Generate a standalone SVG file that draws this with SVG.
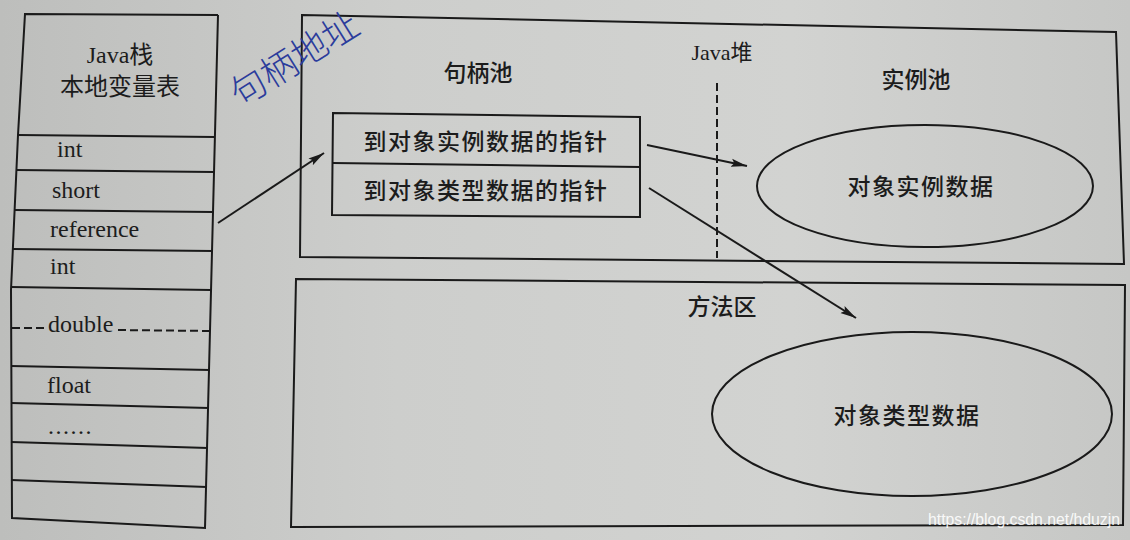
<svg xmlns="http://www.w3.org/2000/svg" width="1130" height="540" viewBox="0 0 1130 540">
  <defs>
    <linearGradient id="paper" x1="0" y1="0" x2="1" y2="0">
      <stop offset="0" stop-color="#bdbebc"/>
      <stop offset="0.35" stop-color="#cdcecc"/>
      <stop offset="0.7" stop-color="#d2d3d1"/>
      <stop offset="1" stop-color="#c6c7c5"/>
    </linearGradient>
    <marker id="arrow" viewBox="0 0 16 10" refX="16" refY="5" markerWidth="16" markerHeight="10" markerUnits="userSpaceOnUse" orient="auto">
      <path d="M0,1 L16,5 L0,9 L3,5 Z" fill="#1a1a1a"/>
    </marker>
    <style>
      .ln { stroke: #1a1a1a; stroke-width: 2; fill: none; }
      .dash { stroke: #1a1a1a; stroke-width: 2; fill: none; stroke-dasharray: 8 4; }
      .lat { font-family: "Liberation Serif", "Noto Sans CJK SC", serif; font-size: 24px; fill: #1c1c1c; }
      .cjk { font-family: "Liberation Serif", "Noto Sans CJK SC", serif; font-size: 23px; fill: #1c1c1c; font-weight: 500; }
      .ptr { letter-spacing: 1.5px; }
      .mid { text-anchor: middle; }
      .conn { stroke: #1a1a1a; stroke-width: 2; fill: none; marker-end: url(#arrow); }
    </style>
  </defs>

  <rect x="0" y="0" width="1130" height="540" fill="url(#paper)"/>

  <!-- Java stack / local variable table -->
  <g id="java-stack">
    <polyline class="ln" points="218,15 25,14 18,135 11,290 12,518 205,528 218,15"/>
    <line class="ln" x1="18" y1="135" x2="215" y2="137"/>
    <line class="ln" x1="16" y1="170" x2="214" y2="172"/>
    <line class="ln" x1="14" y1="210" x2="213" y2="212"/>
    <line class="ln" x1="13" y1="249" x2="213" y2="251"/>
    <line class="ln" x1="11" y1="287" x2="211" y2="290"/>
    <line class="dash" x1="12" y1="328" x2="46" y2="328"/>
    <line class="dash" x1="118" y1="330" x2="210" y2="331"/>
    <line class="ln" x1="11" y1="366" x2="210" y2="370"/>
    <line class="ln" x1="11" y1="403" x2="209" y2="408"/>
    <line class="ln" x1="11" y1="442" x2="208" y2="448"/>
    <line class="ln" x1="11" y1="480" x2="207" y2="487"/>
    <text class="lat mid" x="120" y="63">Java栈</text>
    <text class="lat mid" x="120" y="95">本地变量表</text>
    <text class="lat" x="57" y="157">int</text>
    <text class="lat" x="52" y="198">short</text>
    <text class="lat" x="50" y="237">reference</text>
    <text class="lat" x="50" y="274">int</text>
    <text class="lat" x="48" y="332">double</text>
    <text class="lat" x="47" y="393">float</text>
    <text class="lat" x="48" y="434" letter-spacing="1.5">......</text>
  </g>

  <!-- Java heap -->
  <g id="java-heap">
    <polygon class="ln" points="302,15 1116,32 1124,264 300,257"/>
    <line class="dash" x1="717" y1="83" x2="717" y2="258"/>
    <text class="lat mid" x="722" y="60" style="font-size:22px">Java堆</text>
  </g>

  <!-- Handle pool -->
  <g id="handle-pool">
    <text class="cjk mid" x="478" y="81">句柄池</text>
    <polygon class="ln" points="333,113 640,117 640,217 332,215"/>
    <line class="ln" x1="333" y1="163" x2="640" y2="167"/>
    <text class="cjk mid ptr" x="486" y="150">到对象实例数据的指针</text>
    <text class="cjk mid ptr" x="486" y="199">到对象类型数据的指针</text>
  </g>

  <!-- Instance pool -->
  <g id="instance-pool">
    <text class="cjk mid" x="916" y="88">实例池</text>
    <ellipse class="ln" cx="925" cy="186" rx="168" ry="61"/>
    <text class="cjk mid ptr" x="921" y="195">对象实例数据</text>
  </g>

  <!-- Method area -->
  <g id="method-area">
    <polygon class="ln" points="296,279 1125,285 1123,525 291,527"/>
    <text class="cjk mid" x="722" y="315">方法区</text>
    <ellipse class="ln" cx="912" cy="414" rx="200" ry="82"/>
    <text class="cjk mid ptr" x="907" y="424">对象类型数据</text>
  </g>

  <!-- Connectors -->
  <g id="connectors">
    <line class="conn" x1="218" y1="223" x2="324" y2="153"/>
    <line class="conn" x1="647" y1="145" x2="747" y2="166"/>
    <line class="conn" x1="649" y1="188" x2="856" y2="318"/>
  </g>

  <!-- Handwritten note -->
  <g id="handwritten-note">
    <text x="0" y="0" transform="translate(240,108) rotate(-32)" font-family="'Noto Sans CJK SC', sans-serif" font-size="36" fill="#2b3c9c" font-weight="300">句柄地址</text>
  </g>

  <!-- Watermark -->
  <g id="watermark">
    <text x="928" y="525" font-family="'Liberation Sans', Arial, sans-serif" font-size="16" fill="#ffffff" fill-opacity="0.9" textLength="192" lengthAdjust="spacingAndGlyphs">https://blog.csdn.net/hduzjn</text>
  </g>
</svg>
